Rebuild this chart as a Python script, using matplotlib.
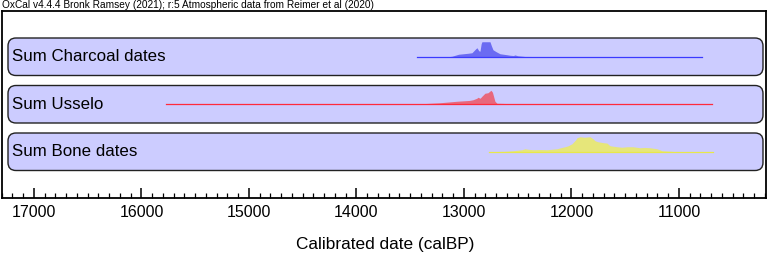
import matplotlib.pyplot as plt
from matplotlib.patches import FancyBboxPatch
from matplotlib.ticker import MultipleLocator

plt.rcParams['font.family'] = ['Liberation Sans', 'DejaVu Sans']

# summed probability distributions (calBP, relative height)
names = ['Sum Charcoal dates', 'Sum Usselo', 'Sum Bone dates']

charcoal_yr = [13437, 13150, 13112, 13050, 12960, 12926, 12890, 12879, 12862, 12851,
               12840, 12833, 12758, 12745, 12730, 12700, 12665, 12600, 12572, 12540,
               12526, 12500, 12433, 12300, 11500, 10786]
charcoal_h = [0, 0, 0.5, 2.5, 3.5, 4, 8, 9, 6, 5.5,
              13, 15, 15, 11, 7, 5, 3, 2, 1.5, 1.2,
              1.8, 1, 0.3, 0.2, 0.2, 0]

usselo_yr = [15772, 13600, 13400, 13223, 13065, 12950, 12916, 12880, 12870, 12850,
             12833, 12805, 12777, 12760, 12749, 12735, 12712, 12693, 12600, 12479,
             12400, 10693]
usselo_h = [0, 0, 0.5, 1.5, 3, 3.8, 4.5, 6, 7, 6,
            8, 11, 11.5, 13, 14, 12, 3, 1, 0.7, 0.3,
            0, 0]

bone_yr = [12767, 12600, 12544, 12460, 12433, 12405, 12358, 12300, 12228, 12135,
           12100, 12061, 12030, 11995, 11960, 11949, 11921, 11880, 11828, 11800,
           11781, 11754, 11700, 11670, 11642, 11577, 11530, 11484, 11428, 11363,
           11320, 11270, 11205, 11158, 11050, 10684]
bone_h = [0, 0.5, 1, 2, 3, 2.5, 2, 2.2, 2, 3,
          4, 5, 6, 8, 12, 14, 15, 14.5, 15, 13,
          11, 10, 9, 8.7, 6, 5, 4.5, 5, 5, 4,
          4.3, 4, 3, 1, 0.3, 0]

series = [(charcoal_yr, charcoal_h, '#6b6bf2', '#3a3aff'),
          (usselo_yr, usselo_h, '#e8687c', '#ff2a3c'),
          (bone_yr, bone_h, '#e6e67a', '#e8e84a')]

W, H = 769, 254
fig = plt.figure(figsize=(W / 100, H / 100), dpi=100)
pos = [1.5 / W, 56 / H, 764 / W, 187 / H]

bg = fig.add_axes(pos)
bg.set_xlim(0, 764)
bg.set_ylim(0, 187)
bg.axis('off')

ax = fig.add_axes(pos)
ax.patch.set_visible(False)
ax.set_xlim(17302, 10195)
ax.set_ylim(0, 187)

for i, (name, (yrs, h, fc, lc)) in enumerate(zip(names, series)):
    yc = 141.25 - 47.5 * i
    box = FancyBboxPatch((6.5, yc - 18.75), 755, 37.5,
                         boxstyle='round,pad=0,rounding_size=8',
                         fc='#ccccff', ec='#222222', lw=1.0)
    bg.add_patch(box)
    bg.text(10.5, yc, name, va='center', ha='left', fontsize=12.2)
    ax.fill_between(yrs, yc, [yc + v for v in h], color=fc, lw=0)
    ax.plot([yrs[0], yrs[-1]], [yc, yc], color=lc, lw=0.9)

ax.set_xticks(range(11000, 17001, 1000))
ax.xaxis.set_minor_locator(MultipleLocator(100))
ax.set_yticks([])
ax.tick_params(axis='x', which='major', direction='in', length=7, width=1.1,
               pad=5, labelsize=11.5)
ax.tick_params(axis='x', which='minor', direction='in', length=3.5, width=0.9)
for s in ax.spines.values():
    s.set_linewidth(1.3)

fig.text(2 / W, 1 - 4.5 / H,
         'OxCal v4.4.4 Bronk Ramsey (2021); r:5 Atmospheric data from Reimer et al (2020)',
         ha='left', va='center', fontsize=7.3)
fig.text(385 / W, 1 - 244 / H, 'Calibrated date (calBP)',
         ha='center', va='center', fontsize=12.4)

fig.savefig('out.png', dpi=100)
